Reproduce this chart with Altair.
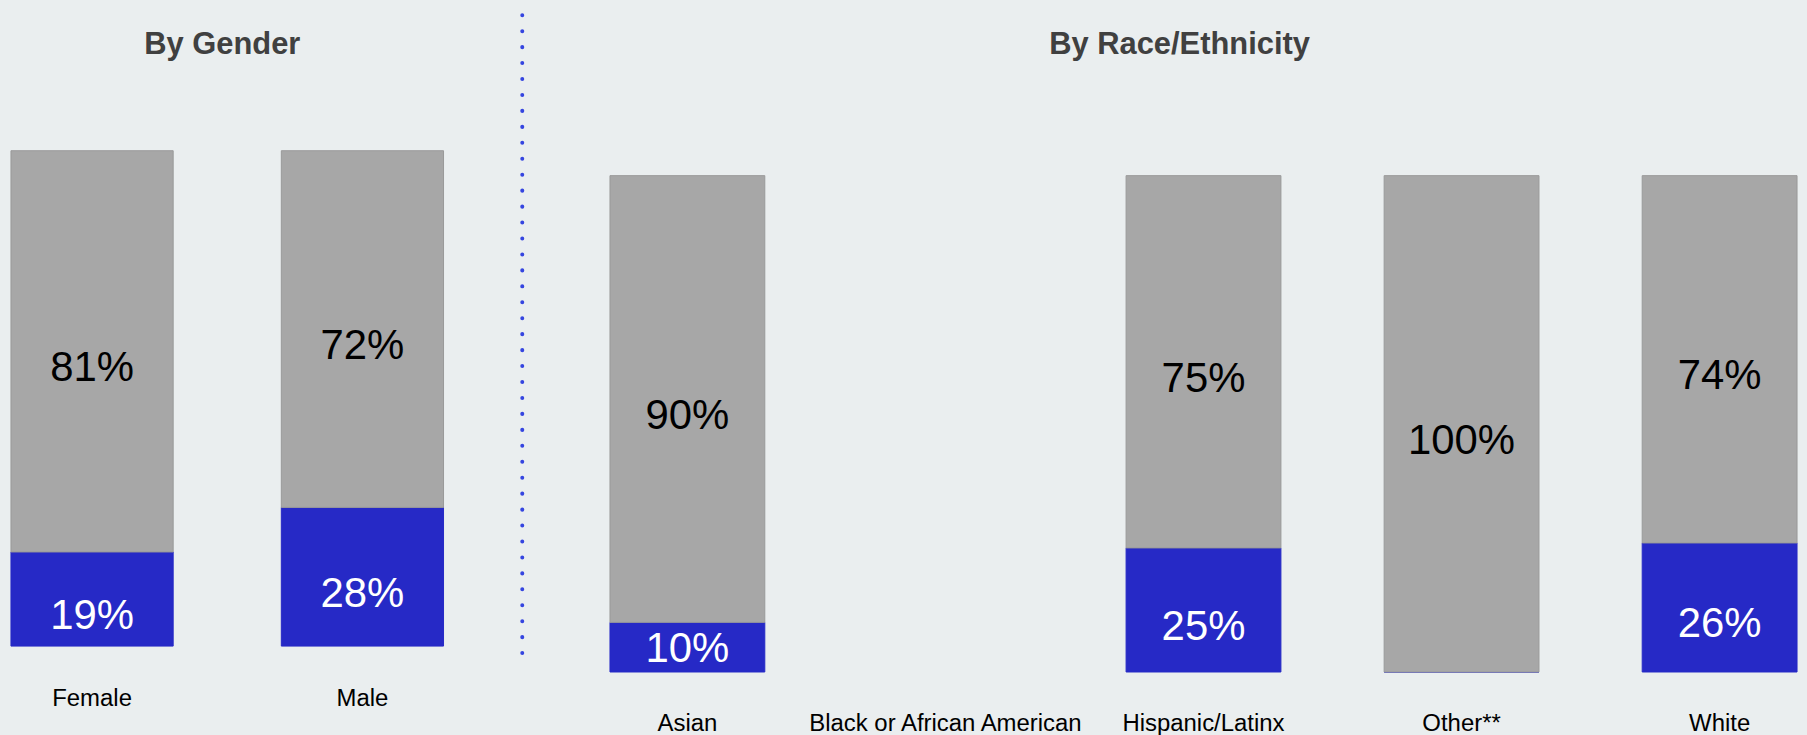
import altair as alt
import pandas as pd

# ---- data ----
gender_cats = ["Female", "Male"]
gender_yes = [19, 28]
gender_no = [81, 72]

race_cats = ["Asian", "Black or African American", "Hispanic/Latinx", "Other**", "White"]
race_yes = [10, None, 25, 0, 26]
race_no = [90, None, 75, 100, 74]

BLUE = "#2629C6"
GRAY = "#A7A7A7"
BG = "#EAEEEF"
FONT = "Liberation Sans"


def long_df(cats, yes, no):
    rows = []
    for c, y, n in zip(cats, yes, no):
        if y is None or n is None:
            continue
        rows.append({"cat": c, "grp": "yes", "value": y, "ord": 0})
        rows.append({"cat": c, "grp": "no", "value": n, "ord": 1})
    return pd.DataFrame(rows)


def panel(df, cats, width, height, ydom, title, title_dx, label_pad):
    xenc = alt.X(
        "cat:N",
        sort=cats,
        scale=alt.Scale(domain=cats, paddingInner=0.4, paddingOuter=0),
        axis=alt.Axis(
            title=None, labelAngle=0, ticks=False, domain=False, grid=False,
            labelFontSize=24, labelFont=FONT, labelColor="#000000",
            labelPadding=label_pad, labelLimit=0,
        ),
    )
    base = alt.Chart(df).transform_stack(
        stack="value", groupby=["cat"], as_=["v0", "v1"],
        sort=[alt.SortField("ord", order="ascending")],
    ).transform_calculate(
        # label sits at the segment middle, but stays inside short segments
        pos="max((datum.v0 + datum.v1) / 2, datum.v0 + 8)",
        label="datum.value + '%'",
    )
    yscale = alt.Scale(domain=ydom, nice=False, zero=False)
    bars = base.mark_bar(strokeWidth=1).encode(
        x=xenc,
        y=alt.Y("v0:Q", scale=yscale, axis=None),
        y2="v1:Q",
        color=alt.Color("grp:N", scale=alt.Scale(domain=["no", "yes"], range=[GRAY, BLUE]), legend=None),
        stroke=alt.condition("datum.grp == 'no'", alt.value("#9A9A9A"), alt.value(BLUE)),
    )
    text = base.transform_filter("datum.value > 0").mark_text(
        fontSize=42, font=FONT, baseline="middle", dy=17,
    ).encode(
        x=xenc,
        y=alt.Y("pos:Q", scale=yscale, axis=None),
        text="label:N",
        color=alt.condition("datum.grp == 'yes'", alt.value("#FFFFFF"), alt.value("#000000")),
    )
    return alt.layer(bars, text).properties(
        width=width, height=height,
        title=alt.TitleParams(
            title, fontSize=31, font=FONT, fontWeight="bold", color="#404040",
            anchor="middle", baseline="alphabetic", offset=66, dx=title_dx,
        ),
    )


H = 523
gender = panel(long_df(gender_cats, gender_yes, gender_no), gender_cats, 434, H,
               [-26 / 497 * 100, 100], "By Gender", -5, 15)
race = panel(long_df(race_cats, race_yes, race_no), race_cats, 1191, H,
             [0, 523 / 498 * 100], "By Race/Ethnicity", -24, 40)

divider = alt.Chart(pd.DataFrame({"d": [0]})).mark_rule(
    color="#3545E0", strokeWidth=4, strokeDash=[0.1, 15.9], strokeCap="round",
).encode(x=alt.value(0), y=alt.value(-136), y2=alt.value(504)).properties(width=11, height=H)

chart = alt.hconcat(gender, divider, race, spacing=76).properties(
    background=BG,
    padding={"left": 10, "top": 12, "right": 9, "bottom": 2},
).configure_view(stroke=None)

chart.save("out.html", embed_options={"renderer": "svg", "actions": False})
